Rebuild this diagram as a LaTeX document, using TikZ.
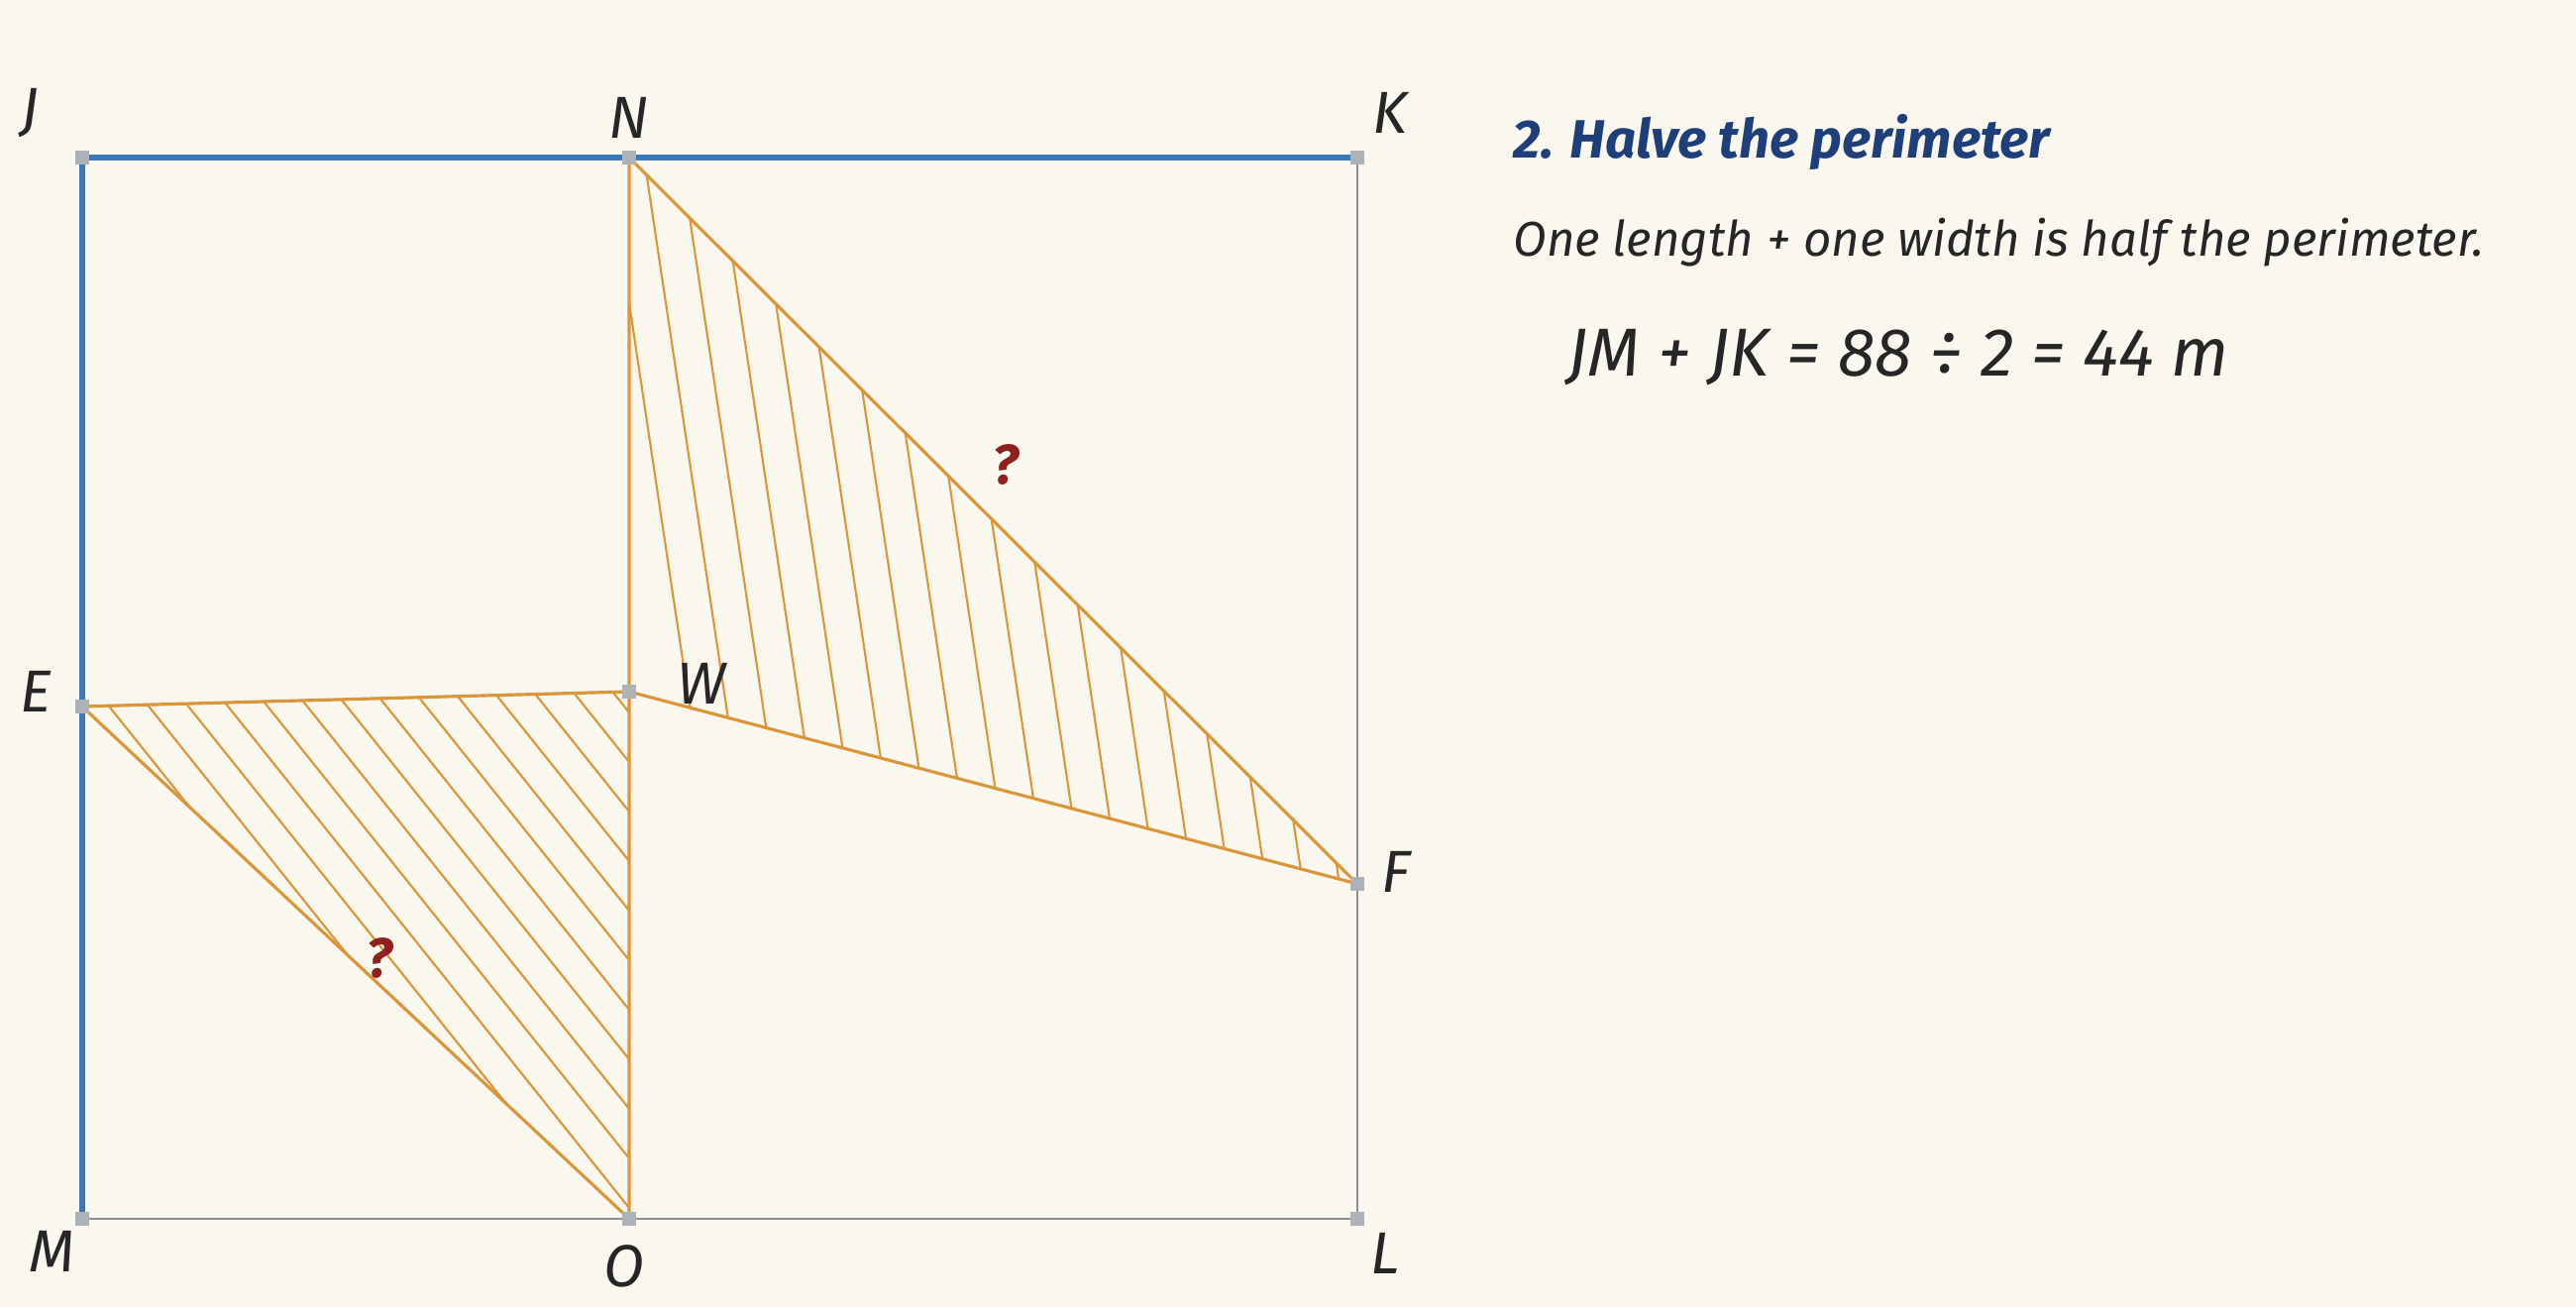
\documentclass[tikz,border=0pt]{standalone}
\usepackage{fontspec}
\setmainfont{Fira Sans}
\usepackage{tikz}
\usetikzlibrary{positioning}
\definecolor{paper}{HTML}{FAF7EE}
\definecolor{pencilblue}{HTML}{3C78B8}
\definecolor{pencilgray}{HTML}{8A8F99}
\definecolor{hatch}{HTML}{D9963A}
\definecolor{qred}{HTML}{8E2020}
\definecolor{titleblue}{HTML}{1F3F7A}
\definecolor{ink}{HTML}{262626}

\begin{document}
\begin{tikzpicture}[lbl/.style={font=\itshape\fontsize{17}{17}\selectfont,text=ink},
  pt/.style={fill=pencilgray!70,minimum size=4pt,inner sep=0pt}]
\fill[paper] (0,0) rectangle (26,13.19);
\useasboundingbox (0,0) rectangle (26,13.19);
% corners and points
\coordinate (J) at (0.83,11.60);
\coordinate (N) at (6.35,11.60);
\coordinate (K) at (13.70,11.60);
\coordinate (E) at (0.83,6.06);
\coordinate (W) at (6.35,6.21);
\coordinate (F) at (13.70,4.27);
\coordinate (M) at (0.83,0.89);
\coordinate (O) at (6.35,0.89);
\coordinate (L) at (13.70,0.89);
% hatching
\begin{scope}
\clip (E) -- (W) -- (O) -- cycle;
\foreach \i in {0,...,16}
  \draw[hatch,line width=0.6pt] (0.83+0.4*\i,6.4) -- ++(6,-7.5);
\end{scope}
\begin{scope}
\clip (N) -- (W) -- (F) -- cycle;
\foreach \i in {0,...,22}
  \draw[hatch,line width=0.6pt] (6.1+0.37*\i,11.8) -- ++(1.2,-8);
\end{scope}
% rectangle
\draw[pencilgray,line width=0.8pt] (K) -- (L) -- (M);
\draw[pencilblue,line width=1.6pt] (M) -- (J) -- (K);
% triangles
\draw[hatch,line width=0.9pt] (E) -- (W) -- (O) -- cycle;
\draw[hatch,line width=0.9pt] (N) -- (W) -- (F) -- cycle;
% markers
\foreach \p in {J,N,K,E,W,F,M,O,L}
  \node[pt] at (\p) {};
% labels
\node[lbl] (lJ) at (0.30,12.05) {J};
\node[lbl] (lN) at (6.35,12.00) {N};
\node[lbl] (lK) at (14.03,12.05) {K};
\node[lbl] (lE) at (0.36,6.21) {E};
\node[lbl] (lW) at (7.08,6.29) {W};
\node[lbl] (lF) at (14.09,4.39) {F};
\node[lbl] (lM) at (0.53,0.56) {M};
\node[lbl] (lO) at (6.30,0.41) {O};
\node[lbl] (lL) at (13.98,0.54) {L};
\node[font=\itshape\bfseries\fontsize{16}{16}\selectfont,text=qred] (q1) at (10.15,8.50) {?};
\node[font=\itshape\bfseries\fontsize{16}{16}\selectfont,text=qred] (q2) at (3.83,3.52) {?};
% text
\node[anchor=west,font=\itshape\bfseries\fontsize{15.5}{15.5}\selectfont,text=titleblue] (title) at (15.15,11.75) {2. Halve the perimeter};
\node[anchor=west,font=\itshape\fontsize{14}{14}\selectfont,text=ink] (line1) at (15.15,10.74) {One length + one width is half the perimeter.};
\node[anchor=west,font=\itshape\fontsize{19.5}{19.5}\selectfont,text=ink] (line2) at (15.70,9.58) {JM + JK = 88 ÷ 2 = 44 m};
\end{tikzpicture}
\end{document}
